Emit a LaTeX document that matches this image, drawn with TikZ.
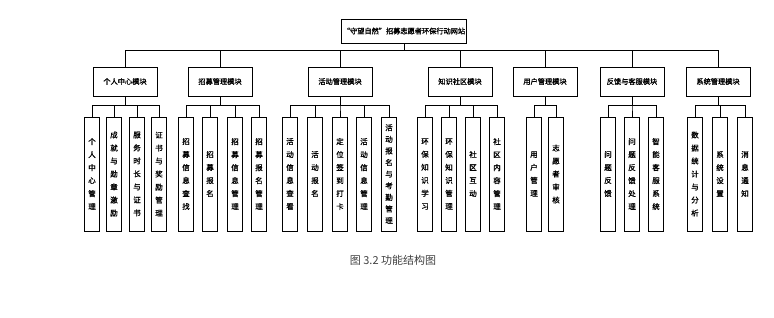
\documentclass[tikz,border=0pt]{standalone}
\usepackage{fontspec}
\setmainfont{Noto Sans CJK SC}
\newfontfamily\boxfont{Noto Sans CJK SC}[FakeBold=1.2]
\usetikzlibrary{positioning}

\tikzset{
  topbox/.style={draw, line width=0.8pt, minimum width=125pt, minimum height=24pt, inner sep=0pt, font=\boxfont\fontsize{7.2}{8}\selectfont},
  modbox/.style={draw, line width=0.8pt, minimum width=64pt, minimum height=29pt, inner sep=0pt, font=\boxfont\fontsize{7.2}{8}\selectfont},
  leaf/.style={draw, line width=0.8pt, minimum width=15pt, minimum height=114pt, inner sep=0pt, align=center, font=\boxfont\fontsize{7.5}{13}\selectfont},
  link/.style={line width=0.8pt}
}

\begin{document}
\begin{tikzpicture}[x=1pt, y=-1pt]
    \useasboundingbox (0,0) rectangle (774,317);

    \node[topbox] (root) at (404,31) {“守望自然”招募志愿者环保行动网站};

    % modules
    \node[modbox] (m1) at (125,81.5) {个人中心模块};
    \node[modbox] (m2) at (220,81.5) {招募管理模块};
    \node[modbox] (m3) at (340,81.5) {活动管理模块};
    \node[modbox] (m4) at (460,81.5) {知识社区模块};
    \node[modbox] (m5) at (545,81.5) {用户管理模块};
    \node[modbox] (m6) at (632,81.5) {反馈与客服模块};
    \node[modbox] (m7) at (718,81.5) {系统管理模块};
    \foreach \m in {m1,m2,m3,m4,m5,m6,m7}
      \draw[link] (root.south) -- ++(0,7) -| (\m.north);

    % leaves
    \foreach \x/\t [count=\i] in {92/{个\\人\\中\\心\\管\\理}, 114/{成\\就\\与\\勋\\章\\激\\励}, 137/{服\\务\\时\\长\\与\\证\\书}, 159/{证\\书\\与\\奖\\励\\管\\理}} {
      \node[leaf] (a\i) at (\x,174) {\t};
      \draw[link] (m1.south) -- ++(0,8.5) -| (a\i.north);
    }
    \foreach \x/\t [count=\i] in {186/{招\\募\\信\\息\\查\\找}, 210/{招\\募\\报\\名}, 235/{招\\募\\信\\息\\管\\理}, 259/{招\\募\\报\\名\\管\\理}} {
      \node[leaf] (b\i) at (\x,174) {\t};
      \draw[link] (m2.south) -- ++(0,8.5) -| (b\i.north);
    }
    \foreach \x/\t [count=\i] in {290/{活\\动\\信\\息\\查\\看}, 315/{活\\动\\报\\名}, 340/{定\\位\\签\\到\\打\\卡}, 364/{活\\动\\信\\息\\管\\理}} {
      \node[leaf] (c\i) at (\x,174) {\t};
      \draw[link] (m3.south) -- ++(0,8.5) -| (c\i.north);
    }
    \node[leaf, font=\boxfont\fontsize{7.5}{11.6}\selectfont] (c5) at (389,174) {活\\动\\报\\名\\与\\考\\勤\\管\\理};
    \draw[link] (m3.south) -- ++(0,8.5) -| (c5.north);
    \foreach \x/\t [count=\i] in {425/{环\\保\\知\\识\\学\\习}, 449/{环\\保\\知\\识\\管\\理}, 473/{社\\区\\互\\动}, 497/{社\\区\\内\\容\\管\\理}} {
      \node[leaf] (d\i) at (\x,174) {\t};
      \draw[link] (m4.south) -- ++(0,8.5) -| (d\i.north);
    }
    \foreach \x/\t [count=\i] in {534/{用\\户\\管\\理}, 556/{志\\愿\\者\\审\\核}} {
      \node[leaf] (e\i) at (\x,174) {\t};
      \draw[link] (m5.south) -- ++(0,8.5) -| (e\i.north);
    }
    \foreach \x/\t [count=\i] in {608/{问\\题\\反\\馈}, 632/{问\\题\\反\\馈\\处\\理}, 656/{智\\能\\客\\服\\系\\统}} {
      \node[leaf] (f\i) at (\x,174) {\t};
      \draw[link] (m6.south) -- ++(0,8.5) -| (f\i.north);
    }
    \foreach \x/\t [count=\i] in {695/{数\\据\\统\\计\\与\\分\\析}, 720/{系\\统\\设\\置}, 745/{消\\息\\通\\知}} {
      \node[leaf] (g\i) at (\x,174) {\t};
      \draw[link] (m7.south) -- ++(0,8.5) -| (g\i.north);
    }

    \node[font=\fontsize{11}{13}\selectfont, text=black!75] (cap) at (393,260) {图 3.2 功能结构图};
  \end{tikzpicture}
\end{document}
